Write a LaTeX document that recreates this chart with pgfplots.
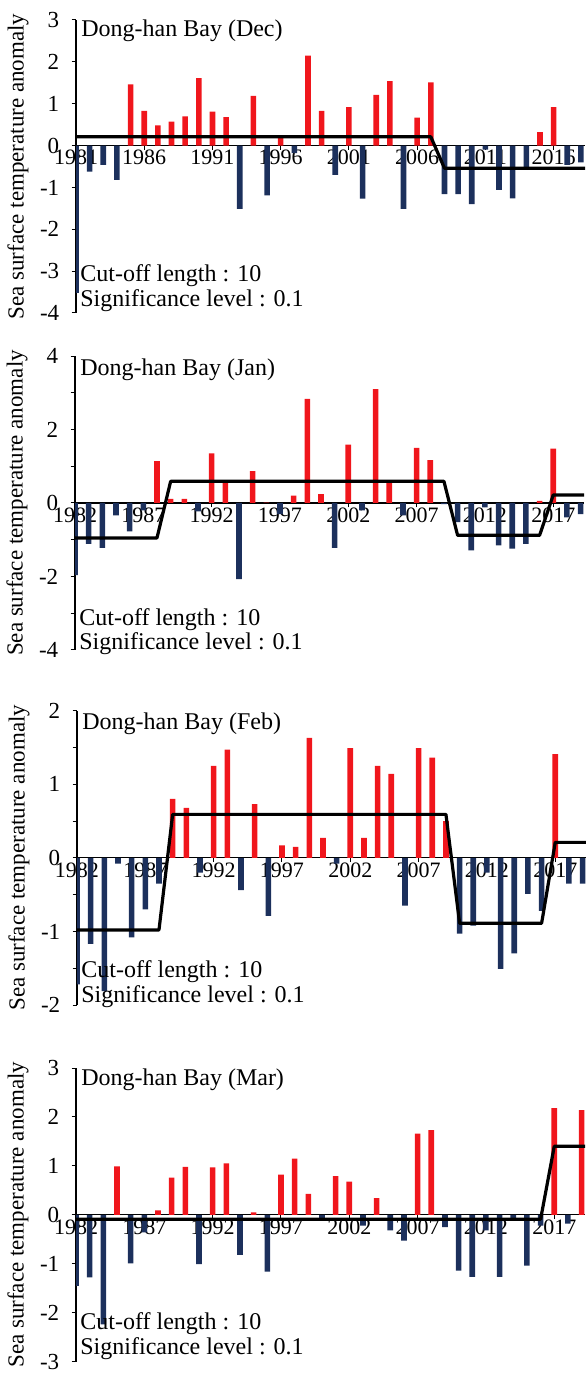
\documentclass[border=0pt]{standalone}
\usepackage{fontspec}
\setmainfont{Liberation Serif}
\usepackage{pgfplots}
\pgfplotsset{compat=1.18}
\usepackage{pgfplotstable}
\definecolor{barred}{RGB}{240,22,28}
\definecolor{barblue}{RGB}{28,48,92}

\pgfplotstableread{
year v
1981 -3.52
1982 -0.62
1983 -0.46
1984 -0.82
1985 1.46
1986 0.83
1987 0.48
1988 0.57
1989 0.70
1990 1.61
1991 0.81
1992 0.68
1993 -1.51
1994 1.19
1995 -1.19
1996 0.21
1997 -0.18
1998 2.15
1999 0.83
2000 -0.70
2001 0.92
2002 -1.27
2003 1.21
2004 1.54
2005 -1.51
2006 0.67
2007 1.51
2008 -1.16
2009 -1.16
2010 -1.40
2011 -0.10
2012 -1.06
2013 -1.26
2014 -0.54
2015 0.32
2016 0.92
2017 -0.46
2018 -0.40
}\decdata

\pgfplotstableread{
year v
1982 -1.96
1983 -1.11
1984 -1.22
1985 -0.34
1986 -0.77
1987 -0.20
1988 1.14
1989 0.11
1990 0.11
1991 -0.23
1992 1.35
1993 0.58
1994 -2.07
1995 0.87
1996 0.01
1997 -0.30
1998 0.20
1999 2.83
2000 0.24
2001 -1.22
2002 1.59
2003 -0.20
2004 3.10
2005 0.56
2006 -0.34
2007 1.50
2008 1.17
2009 -0.03
2010 -0.52
2011 -1.29
2012 -0.12
2013 -1.15
2014 -1.24
2015 -1.11
2016 0.06
2017 1.48
2018 -0.39
2019 -0.30
}\jandata

\pgfplotstableread{
year v
1982 -1.72
1983 -1.17
1984 -1.81
1985 -0.08
1986 -1.08
1987 -0.70
1988 -0.35
1989 0.80
1990 0.68
1991 -0.20
1992 1.25
1993 1.47
1994 -0.44
1995 0.73
1996 -0.79
1997 0.17
1998 0.15
1999 1.63
2000 0.27
2001 -0.08
2002 1.49
2003 0.27
2004 1.25
2005 1.14
2006 -0.65
2007 1.49
2008 1.36
2009 0.50
2010 -1.03
2011 -0.92
2012 -0.20
2013 -1.51
2014 -1.30
2015 -0.49
2016 -0.72
2017 1.41
2018 -0.35
2019 -0.35
}\febdata

\pgfplotstableread{
year v
1982 -1.45
1983 -1.28
1984 -2.24
1985 0.99
1986 -0.99
1987 -0.36
1988 0.09
1989 0.76
1990 0.98
1991 -1.01
1992 0.97
1993 1.05
1994 -0.82
1995 0.05
1996 -1.16
1997 0.82
1998 1.15
1999 0.43
2000 -0.12
2001 0.79
2002 0.68
2003 -0.22
2004 0.34
2005 -0.32
2006 -0.53
2007 1.66
2008 1.73
2009 -0.25
2010 -1.14
2011 -1.27
2012 -0.32
2013 -1.27
2014 -0.12
2015 -1.04
2016 -0.22
2017 2.18
2018 -0.18
2019 2.14
}\mardata

\pgfplotsset{
  panel/.style={
    scale only axis, width=254.5pt, height=146.8pt,
    anchor=north west,
    axis x line=middle, axis y line=left,
    axis line style={-, line width=0.6pt},
    hide obscured x ticks=false, hide obscured y ticks=false,
    tick align=outside, major tick length=2.2pt,
    tick style={black, line width=0.5pt},
    x tick label style={font=\fontsize{11}{12}\selectfont, inner sep=1pt, yshift=1pt},
    y tick label style={font=\fontsize{11.5}{12}\selectfont, inner sep=1.5pt, xshift=-4.5pt},
    every axis y label/.style={at={([xshift=-29pt]axis description cs:0,0.5)}, rotate=90,
      anchor=center, font=\fontsize{11.5}{13}\selectfont},
    ylabel={Sea surface temperature anomaly},
    clip mode=individual,
  },
  redbars/.style={ybar, bar width=2.8pt, bar shift=0pt, draw=none, fill=barred,
    restrict y to domain=0:10},
  bluebars/.style={ybar, bar width=2.8pt, bar shift=0pt, draw=none, fill=barblue,
    restrict y to domain=-10:0},
  trend/.style={black, line width=1.6pt, line join=round},
}
\tikzset{ttl/.style={anchor=base west, inner sep=0pt, font=\fontsize{12}{13}\selectfont}}

\begin{document}
\begin{tikzpicture}
\useasboundingbox (0pt,0pt) rectangle (292.5pt,-687pt);

% ---------- Dec ----------
\begin{axis}[panel, at={(38pt,-10pt)}, height=146.5pt,
  xmin=1981, xmax=2018.3, ymin=-4, ymax=3,
  ytick={-4,-3,-2,-1,0,1,2,3}, yticklabels={-4,-3,-2,-1,0,1,2,3},
  xtick={1981,1986,1991,1996,2001,2006,2011,2016},
  xticklabels={1981,1986,1991,1996,2001,2006,2011,2016}]
\addplot[redbars] table[x=year,y=v] {\decdata};
\addplot[bluebars] table[x=year,y=v] {\decdata};
\addplot[trend] coordinates {(1981,0.21) (2007,0.21) (2008,-0.54) (2018.3,-0.54)};
\node[ttl, xshift=2.5pt, yshift=-8.5pt] at (axis description cs:0,1) {Dong-han Bay (Dec)};
\node[ttl, xshift=2pt, yshift=15.5pt] at (axis description cs:0,0) {Cut-off length : 10};
\node[ttl, xshift=2pt, yshift=3.2pt] at (axis description cs:0,0) {Significance level : 0.1};
\end{axis}

% ---------- Jan ----------
\begin{axis}[panel, at={(37.5pt,-178pt)}, height=147pt,
  xmin=1982, xmax=2019.25, ymin=-4, ymax=4,
  ytick={-4,-3,-2,-1,0,1,2,3,4}, yticklabels={-4,,-2,,0,,2,,4},
  xtick={1982,1987,1992,1997,2002,2007,2012,2017},
  xticklabels={1982,1987,1992,1997,2002,2007,2012,2017}]
\addplot[redbars] table[x=year,y=v] {\jandata};
\addplot[bluebars] table[x=year,y=v] {\jandata};
\addplot[trend] coordinates {(1982,-0.95) (1988,-0.95) (1989,0.59) (2009,0.59) (2010,-0.88) (2016,-0.88) (2017,0.22) (2019.25,0.22)};
\node[ttl, xshift=2.5pt, yshift=-9.5pt] at (axis description cs:0,1) {Dong-han Bay (Jan)};
\node[ttl, xshift=2pt, yshift=12.5pt] at (axis description cs:0,0) {Cut-off length : 10};
\node[ttl, xshift=2pt, yshift=0pt] at (axis description cs:0,0) {Significance level : 0.1};
\end{axis}

% ---------- Feb ----------
\begin{axis}[panel, at={(38.5pt,-355.3pt)}, height=147.2pt,
  xmin=1982, xmax=2019.25, ymin=-2, ymax=2,
  ytick={-2,-1.5,-1,-0.5,0,0.5,1,1.5,2}, yticklabels={-2,,-1,,0,,1,,2},
  xtick={1982,1987,1992,1997,2002,2007,2012,2017},
  xticklabels={1982,1987,1992,1997,2002,2007,2012,2017}]
\addplot[redbars] table[x=year,y=v] {\febdata};
\addplot[bluebars] table[x=year,y=v] {\febdata};
\addplot[trend] coordinates {(1982,-0.98) (1988,-0.98) (1989,0.59) (2009,0.59) (2010,-0.89) (2016,-0.89) (2017,0.21) (2019.25,0.21)};
\node[ttl, xshift=2.5pt, yshift=-9.5pt] at (axis description cs:0,1) {Dong-han Bay (Feb)};
\node[ttl, xshift=2pt, yshift=14pt] at (axis description cs:0,0) {Cut-off length : 10};
\node[ttl, xshift=2pt, yshift=1.2pt] at (axis description cs:0,0) {Significance level : 0.1};
\end{axis}

% ---------- Mar ----------
\begin{axis}[panel, at={(38pt,-534pt)}, height=146.8pt,
  xmin=1982, xmax=2019.25, ymin=-3, ymax=3,
  ytick={-3,-2,-1,0,1,2,3}, yticklabels={-3,-2,-1,0,1,2,3},
  xtick={1982,1987,1992,1997,2002,2007,2012,2017},
  xticklabels={1982,1987,1992,1997,2002,2007,2012,2017}]
\addplot[redbars] table[x=year,y=v] {\mardata};
\addplot[bluebars] table[x=year,y=v] {\mardata};
\addplot[trend] coordinates {(1982,-0.09) (2016,-0.09) (2017,1.40) (2019.25,1.40)};
\node[ttl, xshift=2.5pt, yshift=-8.5pt] at (axis description cs:0,1) {Dong-han Bay (Mar)};
\node[ttl, xshift=2pt, yshift=16pt] at (axis description cs:0,0) {Cut-off length : 10};
\node[ttl, xshift=2pt, yshift=3.5pt] at (axis description cs:0,0) {Significance level : 0.1};
\end{axis}
\end{tikzpicture}
\end{document}
